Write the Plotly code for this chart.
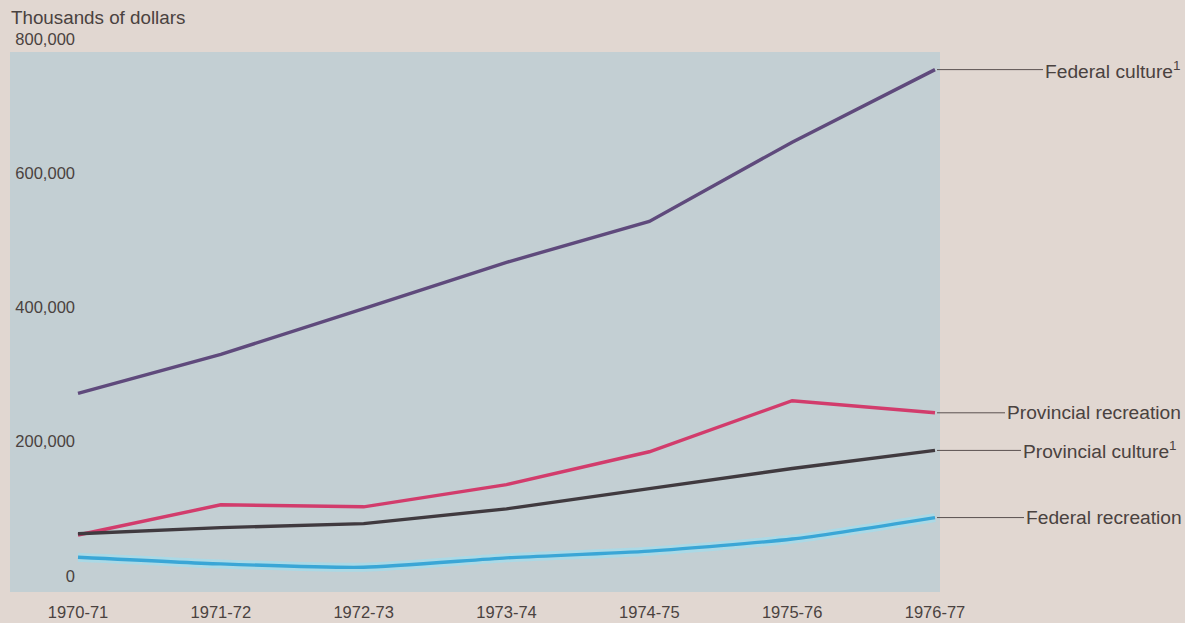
import plotly.graph_objects as go

years = ["1970-71", "1971-72", "1972-73", "1973-74", "1974-75", "1975-76", "1976-77"]
federal_culture = [272000, 330000, 398000, 467000, 528000, 646000, 754000]
provincial_recreation = [61000, 106000, 103000, 136000, 185000, 261000, 243000]
provincial_culture = [63000, 72000, 78000, 100000, 130000, 160000, 187000]
federal_recreation = [28000, 18000, 13000, 27000, 37000, 55000, 87000]

series_names = ["Federal culture<sup>1</sup>", "Provincial recreation",
                "Provincial culture<sup>1</sup>", "Federal recreation"]
series_values = [federal_culture, provincial_recreation, provincial_culture, federal_recreation]
series_colors = ["#5f4a7c", "#d23c6c", "#403a3f", "#3aa6d6"]
label_offsets = [108, 70, 86, 89]

y_ticks = [0, 200000, 400000, 600000, 800000]
y_ticktext = ["0", "200,000", "400,000", "600,000", "800,000"]

FONT = "Liberation Sans, Arial, sans-serif"
TXT = "#4a4240"
W, H = 1185, 623
ML, MR, MT, MB = 76, 245, 30, 28
pw = W - ML - MR
ph = H - MT - MB
x = list(range(len(years)))

fig = go.Figure()

# glow under federal recreation
fig.add_trace(go.Scatter(x=x, y=federal_recreation, mode="lines",
                         line=dict(color="rgba(150,225,245,0.55)", width=9, shape="spline", smoothing=0.6),
                         hoverinfo="skip", showlegend=False))

for name, vals, col in zip(series_names, series_values, series_colors):
    shape = "spline" if name == "Federal recreation" else "linear"
    fig.add_trace(go.Scatter(x=x, y=vals, mode="lines", name=name,
                             line=dict(color=col, width=3.4, shape=shape, smoothing=0.6),
                             showlegend=False))

# end labels with connector lines
for name, vals, off in zip(series_names, series_values, label_offsets):
    fig.add_annotation(x=x[-1], y=vals[-1], xref="x", yref="y", text=name,
                       showarrow=True, ax=off, ay=0, xanchor="left", yanchor="middle",
                       arrowhead=0, arrowwidth=1, arrowcolor="#5a5050", standoff=2,
                       font=dict(family=FONT, size=19.2, color=TXT))

fig.add_annotation(x=(9 - ML) / pw, y=(H - MB - 17) / ph, xref="paper", yref="paper",
                   text="Thousands of dollars", showarrow=False,
                   xanchor="left", yanchor="middle",
                   font=dict(family=FONT, size=18.8, color=TXT))

# panel background
fig.add_shape(type="rect", xref="paper", yref="paper",
              x0=(10 - ML) / pw, x1=(940 - ML) / pw,
              y0=(H - MB - 592) / ph, y1=(H - MB - 52) / ph,
              fillcolor="#c3cfd3", line=dict(width=0), layer="below")

fig.update_layout(
    width=W, height=H,
    margin=dict(l=ML, r=MR, t=MT, b=MB),
    paper_bgcolor="#e1d7d1",
    plot_bgcolor="rgba(0,0,0,0)",
    xaxis=dict(range=[-0.014, 6.035], tickvals=x, ticktext=years, showgrid=False,
               zeroline=False, showline=False, ticks="", ticklabelstandoff=5, automargin=False,
               tickfont=dict(family=FONT, size=16.5, color=TXT)),
    yaxis=dict(range=[-28300, 813000], tickvals=y_ticks, ticktext=y_ticktext, showgrid=False,
               zeroline=False, showline=False, ticks="", automargin=False,
               tickfont=dict(family=FONT, size=16.5, color=TXT)),
)

fig.write_html("out.html", config={"displayModeBar": False},
               post_script="document.body.style.margin='0';document.body.style.background='#e1d7d1';")
